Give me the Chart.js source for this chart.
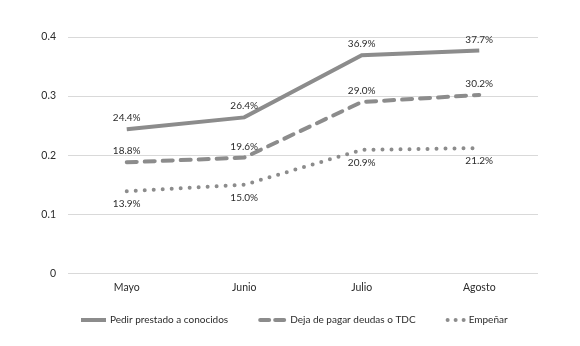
<!DOCTYPE html>
<html>
<head>
<meta charset="utf-8">
<script src="https://cdn.jsdelivr.net/npm/chart.js@4/dist/chart.umd.min.js"></script>
<style>
  html, body { margin: 0; padding: 0; background: #fff; }
  #wrap { width: 580px; height: 346px; }
</style>
</head>
<body>
<div id="wrap"><canvas id="mesesChart" width="580" height="346"></canvas></div>
<script>
const meses = ['Mayo', 'Junio', 'Julio', 'Agosto'];
const pedirPrestado = [0.244, 0.264, 0.369, 0.377];
const dejaDePagar = [0.188, 0.196, 0.290, 0.302];
const empenar = [0.139, 0.150, 0.209, 0.212];
const yTicks = [0, 0.1, 0.2, 0.3, 0.4];

const gris = '#8c8c8c';
const fuente = 'Lato, "Noto Sans", sans-serif';

// etiquetas de porcentaje sobre / debajo de cada punto
const etiquetas = {
    id: 'etiquetas',
    afterDatasetsDraw(chart) {
        const ctx = chart.ctx;
        ctx.save();
        ctx.font = '10px ' + fuente;
        ctx.fillStyle = '#2b2b2b';
        ctx.textAlign = 'center';
        chart.data.datasets.forEach((ds, i) => {
            const meta = chart.getDatasetMeta(i);
            meta.data.forEach((pt, j) => {
                const txt = (ds.data[j] * 100).toFixed(1) + '%';
                if (ds.abajo) {
                    ctx.textBaseline = 'top';
                    ctx.fillText(txt, pt.x, pt.y + 8);
                } else {
                    ctx.textBaseline = 'alphabetic';
                    ctx.fillText(txt, pt.x, pt.y - 8);
                }
            });
        });
        ctx.restore();
    }
};

// leyenda dibujada a mano para mostrar los trazos
const leyenda = {
    id: 'leyenda',
    afterDraw(chart) {
        const ctx = chart.ctx;
        const y = 320;
        const muestras = [25, 28, 19];
        let x = 81;
        ctx.save();
        ctx.font = '10px ' + fuente;
        ctx.textBaseline = 'middle';
        ctx.textAlign = 'left';
        chart.data.datasets.forEach((ds, i) => {
            const w = muestras[i];
            ctx.strokeStyle = ds.borderColor;
            ctx.lineWidth = 4;
            ctx.lineCap = ds.borderCapStyle;
            if (i === 0) {
                ctx.setLineDash([]);
                ctx.beginPath(); ctx.moveTo(x, y); ctx.lineTo(x + w, y); ctx.stroke();
            } else if (i === 1) {
                ctx.setLineDash([]);
                ctx.beginPath(); ctx.moveTo(x + 2, y); ctx.lineTo(x + 11, y); ctx.stroke();
                ctx.beginPath(); ctx.moveTo(x + 17, y); ctx.lineTo(x + 26, y); ctx.stroke();
            } else {
                ctx.fillStyle = ds.borderColor;
                [2, 10, 18].forEach(dx => {
                    ctx.beginPath(); ctx.arc(x + dx, y, 2, 0, Math.PI * 2); ctx.fill();
                });
            }
            x += w + 4;
            ctx.fillStyle = '#2b2b2b';
            ctx.fillText(ds.label, x, y);
            x += ctx.measureText(ds.label).width + 30;
        });
        ctx.restore();
    }
};

const ctx = document.getElementById('mesesChart').getContext('2d');
new Chart(ctx, {
    type: 'line',
    data: {
        labels: meses,
        datasets: [{
            label: 'Pedir prestado a conocidos',
            data: pedirPrestado,
            borderColor: gris,
            borderWidth: 4,
            borderCapStyle: 'butt',
            pointRadius: 0,
            tension: 0
        }, {
            label: 'Deja de pagar deudas o TDC',
            data: dejaDePagar,
            borderColor: gris,
            borderWidth: 4,
            borderDash: [10, 8],
            borderCapStyle: 'round',
            pointRadius: 0,
            tension: 0
        }, {
            label: 'Empeñar',
            data: empenar,
            borderColor: gris,
            borderWidth: 4,
            borderDash: [0, 9],
            borderCapStyle: 'round',
            pointRadius: 0,
            tension: 0,
            abajo: true
        }]
    },
    options: {
        responsive: false,
        animation: false,
        layout: { padding: { left: 30, right: 42, top: 37, bottom: 44 } },
        plugins: {
            legend: { display: false },
            tooltip: { enabled: false }
        },
        scales: {
            x: {
                offset: true,
                grid: { display: false, drawTicks: false },
                border: { display: false },
                ticks: { color: '#2b2b2b', padding: 8, font: { family: fuente, size: 10.5 } }
            },
            y: {
                min: 0,
                max: 0.4,
                afterFit: (scale) => { scale.width = 38; },
                afterBuildTicks: (scale) => { scale.ticks = yTicks.map(v => ({ value: v })); },
                grid: { color: '#d9d9d9', lineWidth: 1, drawTicks: false },
                border: { display: false },
                ticks: {
                    color: '#2b2b2b',
                    padding: 12,
                    font: { family: fuente, size: 10.5 },
                    callback: (v) => v === 0 ? '0' : v.toFixed(1)
                }
            }
        }
    },
    plugins: [etiquetas, leyenda]
});
</script>
</body>
</html>
